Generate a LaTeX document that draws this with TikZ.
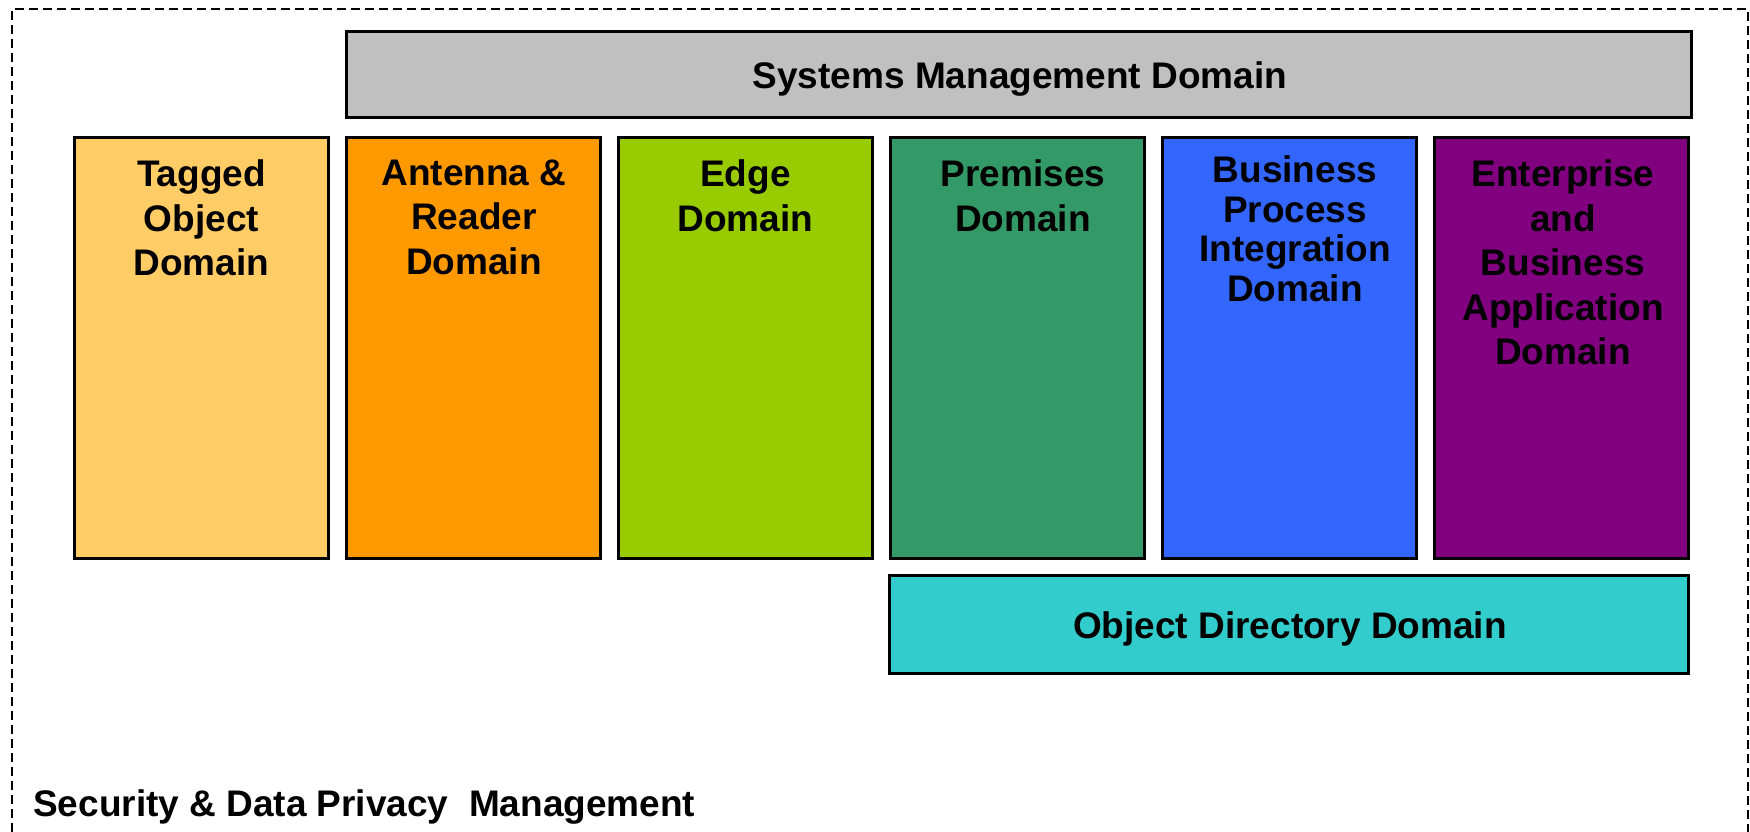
\documentclass[tikz,border=0pt]{standalone}
\usepackage{fontspec}
\setmainfont{Liberation Sans}
\definecolor{ctan}{HTML}{FFCC66}
\definecolor{corange}{HTML}{FF9900}
\definecolor{cgreen}{HTML}{99CC00}
\definecolor{cteal}{HTML}{339966}
\definecolor{cblue}{HTML}{3366FF}
\definecolor{cpurple}{HTML}{800080}
\definecolor{ccyan}{HTML}{33CCCC}
\definecolor{cgrey}{HTML}{C0C0C0}
\tikzset{
  box/.style={draw=black, line width=3.2pt, inner sep=0pt, outer sep=0pt},
  colbox/.style={box, minimum width=254pt, minimum height=421pt},
  lbl/.style={font=\fontsize{37}{44.5}\selectfont\bfseries, align=center, inner sep=0pt, anchor=north},
}
\begin{document}
\begin{tikzpicture}[x=1pt,y=-1pt]
\useasboundingbox (0,0) rectangle (1750,831);
\fill[white] (0,0) rectangle (1750,831);
% dashed outer frame
\draw[line width=2.6pt, dash pattern=on 9pt off 5pt] (12,860) -- (12,9) -- (1748,9) -- (1748,860);
% top bar
\node[box, fill=cgrey, minimum width=1345pt, minimum height=86pt] (sys) at (1019,74.5) {};
\node[lbl, anchor=base] (systxt) at (1020,88.5) {Systems Management Domain};
% columns
\node[colbox, fill=ctan]    (tag)  at (201.5,348) {};
\node[colbox, fill=corange] (ant)  at (473.5,348) {};
\node[colbox, fill=cgreen]  (edge) at (745.5,348) {};
\node[colbox, fill=cteal]   (prem) at (1017.5,348) {};
\node[colbox, fill=cblue]   (bus)  at (1289.5,348) {};
\node[colbox, fill=cpurple] (ent)  at (1561.5,348) {};
\node[lbl] (tagtxt)  at (201.5,159.5) {Tagged\\Object\\Domain};
\node[lbl] (anttxt)  at (474,159.5) {Antenna \&\\Reader\\Domain};
\node[lbl] (edgetxt) at (745.5,159.5) {Edge\\Domain};
\node[lbl] (premtxt) at (1023,159.5) {Premises\\Domain};
\node[lbl, font=\fontsize{37}{39.7}\selectfont\bfseries] (bustxt) at (1295,155.5) {Business\\Process\\Integration\\Domain};
\node[lbl] (enttxt)  at (1563,159.5) {Enterprise\\and\\Business\\Application\\Domain};
% bottom bar
\node[box, fill=ccyan, minimum width=799pt, minimum height=98pt] (dir) at (1289,624.5) {};
\node[lbl, anchor=base] (dirtxt) at (1290,638.5) {Object Directory Domain};
% security label
\node[lbl, anchor=base west] (sec) at (33,816) {Security \& Data Privacy\ \ Management};
\end{tikzpicture}
\end{document}
